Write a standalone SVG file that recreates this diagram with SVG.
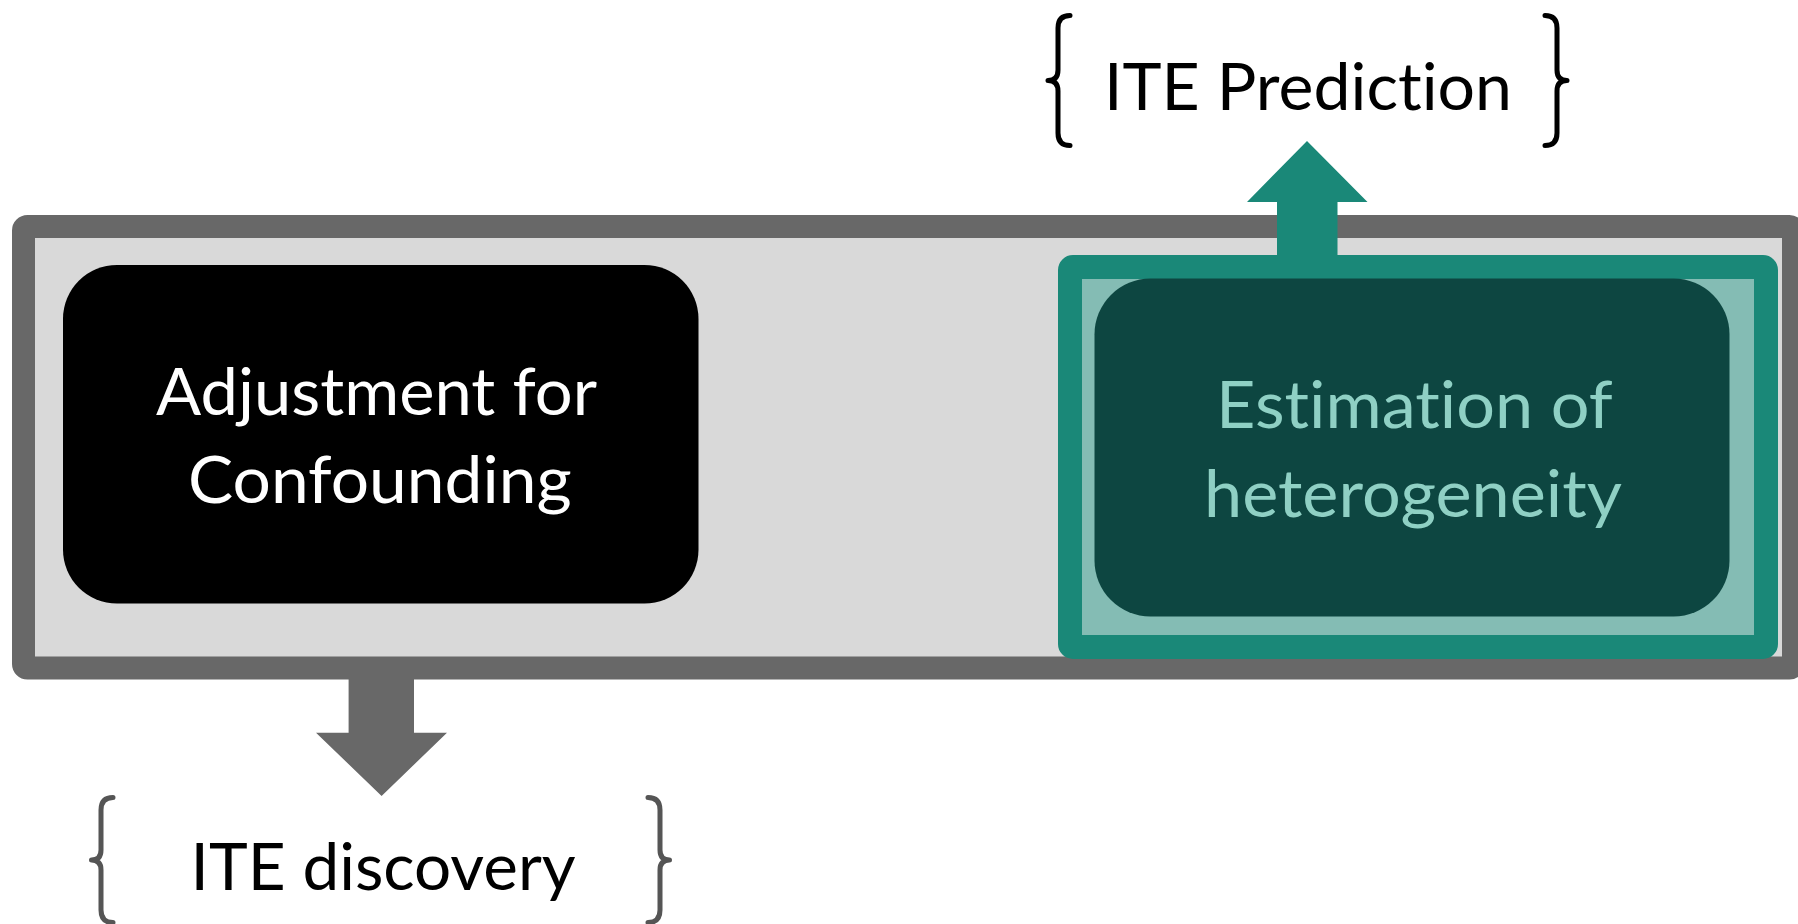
<svg xmlns="http://www.w3.org/2000/svg" width="1798" height="924" viewBox="0 0 1798 924">
  <style>
    .lbl { font-family: Lato, "Open Sans", "Liberation Sans", sans-serif; font-size: 65px; font-variant-ligatures: none; font-feature-settings: "liga" 0, "clig" 0; }
    .brace { fill: none; stroke-width: 5; stroke-linecap: round; stroke-linejoin: round; }
  </style>
  <rect width="1798" height="924" fill="#ffffff"/>

  <!-- outer process frame -->
  <g id="frame">
    <rect x="23.5" y="226.5" width="1770" height="441.5" rx="4" fill="#d9d9d9" stroke="#686868" stroke-width="23" stroke-linejoin="round"/>
  </g>

  <!-- block arrows leaving the frame -->
  <g id="connectors">
    <polygon id="arrow-up" fill="#1a8878" points="1277,262 1277,202 1247,202 1307,141 1367.5,202 1337.5,202 1337.5,262"/>
    <polygon id="arrow-down" fill="#686868" points="348.6,672 348.6,732.7 316,732.7 381.6,796 447,732.7 414,732.7 414,672"/>
  </g>

  <g id="adjustment">
    <rect x="63" y="265" width="635.5" height="338.5" rx="54" fill="#000000"/>
    <text class="lbl" fill="#ffffff" x="156" y="415" textLength="441" lengthAdjust="spacingAndGlyphs">Adjustment for</text>
    <text class="lbl" fill="#ffffff" x="188" y="503" textLength="383.6" lengthAdjust="spacingAndGlyphs">Confounding</text>
  </g>

  <g id="estimation">
    <rect x="1070" y="267" width="696" height="380" rx="3" fill="#84bcb4" stroke="#1a8878" stroke-width="24" stroke-linejoin="round"/>
    <rect x="1094.5" y="278.5" width="635" height="338" rx="56" fill="#0d4641"/>
    <text class="lbl" fill="#8fd0c4" x="1216" y="427.5" textLength="396.7" lengthAdjust="spacingAndGlyphs">Estimation of</text>
    <text class="lbl" fill="#8fd0c4" x="1204" y="517" textLength="418" lengthAdjust="spacingAndGlyphs">heterogeneity</text>
  </g>

  <g id="ite-prediction">
    <path class="brace" stroke="#000000" d="M1070 15.5 Q1058 15.5 1058 28 L1058 70 Q1058 80.5 1048 80.5 Q1058 80.5 1058 91 L1058 133 Q1058 145.5 1070 145.5"/>
    <path class="brace" stroke="#000000" d="M1545 15.5 Q1557 15.5 1557 28 L1557 70 Q1557 80.5 1567 80.5 Q1557 80.5 1557 91 L1557 133 Q1557 145.5 1545 145.5"/>
    <text class="lbl" fill="#000000" x="1104" y="110" textLength="408" lengthAdjust="spacingAndGlyphs">ITE Prediction</text>
  </g>

  <g id="ite-discovery">
    <path class="brace" stroke="#555555" d="M113 797.5 Q101 797.5 101 810 L101 850 Q101 860 91.5 860 Q101 860 101 870 L101 910 Q101 922.5 113 922.5"/>
    <path class="brace" stroke="#555555" d="M648 797.5 Q660 797.5 660 810 L660 850 Q660 860 669.5 860 Q660 860 660 870 L660 910 Q660 922.5 648 922.5"/>
    <text class="lbl" fill="#000000" x="190.6" y="890" textLength="385" lengthAdjust="spacingAndGlyphs">ITE discovery</text>
  </g>
</svg>
